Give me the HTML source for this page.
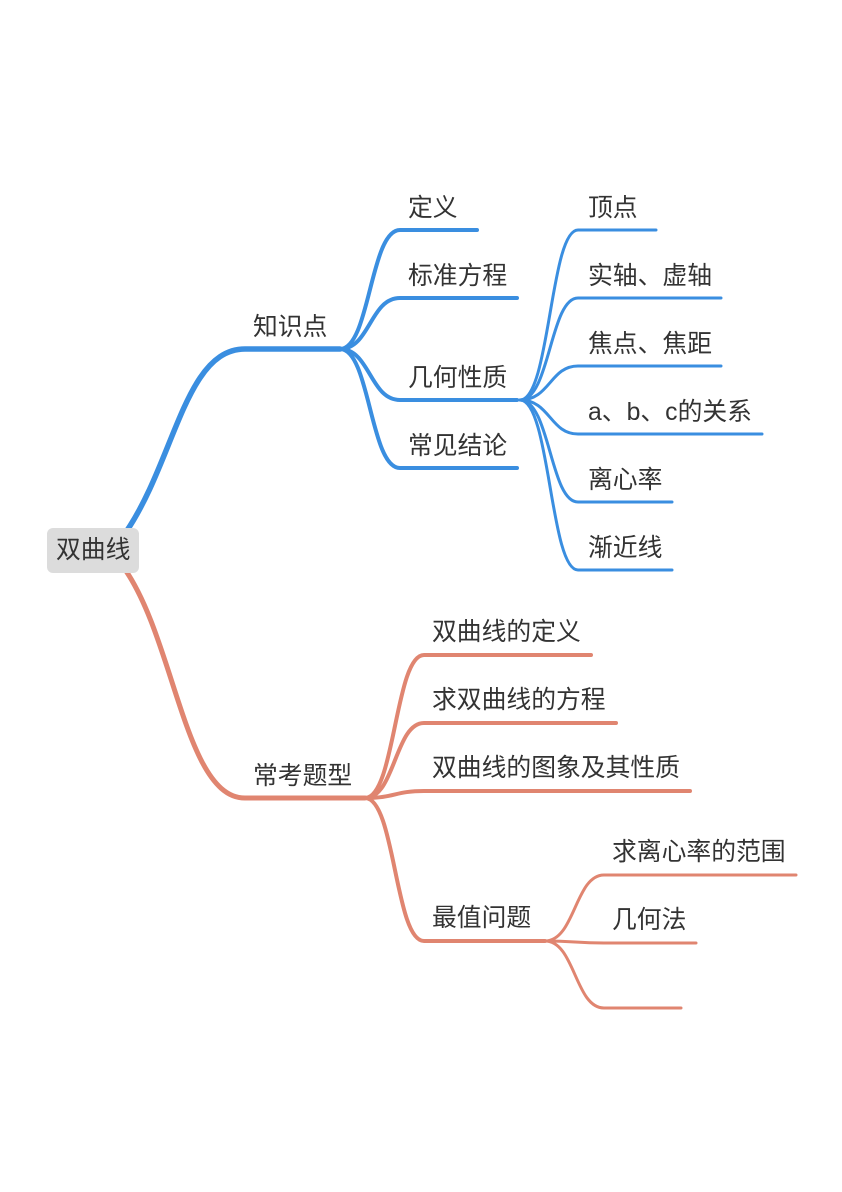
<!DOCTYPE html>
<html><head><meta charset="utf-8"><style>
html,body{margin:0;padding:0;background:#fff;}
svg{display:block;}
text{font-family:"Liberation Sans","Noto Sans CJK SC",sans-serif;font-size:24.8px;fill:#333;}
</style></head><body>
<svg width="842" height="1192" viewBox="0 0 842 1192" xmlns="http://www.w3.org/2000/svg">
<g fill="none" stroke-linecap="round">
<path d="M126 532 C175 460,185 349,245 349 L340 349" stroke="#3a8ee0" stroke-width="5.5"/>
<g stroke="#3a8ee0" stroke-width="4">
<path d="M340 349 C370 349,370 230,400 230 L477 230"/>
<path d="M340 349 C370 349,370 298,400 298 L517 298"/>
<path d="M340 349 C370 349,370 400,400 400 L517 400"/>
<path d="M340 349 C370 349,370 468,400 468 L517 468"/>
</g>
<g stroke="#3a8ee0" stroke-width="3">
<path d="M520 400 C550 400,550 230,578 230 L656 230"/>
<path d="M520 400 C550 400,550 298,578 298 L721 298"/>
<path d="M520 400 C550 400,550 366,578 366 L721 366"/>
<path d="M520 400 C550 400,550 434,578 434 L762 434"/>
<path d="M520 400 C550 400,550 502,578 502 L672 502"/>
<path d="M520 400 C550 400,550 570,578 570 L672 570"/>
</g>
<path d="M124 568 C175 640,185 798,245 798 L365 798" stroke="#e08570" stroke-width="5"/>
<g stroke="#e08570" stroke-width="4">
<path d="M365 798 C395 798,395 655,424 655 L591 655"/>
<path d="M365 798 C395 798,395 723,424 723 L616 723"/>
<path d="M365 798 C395 798,395 791,424 791 L690 791"/>
<path d="M365 798 C395 798,395 941,424 941 L545 941"/>
</g>
<g stroke="#e08570" stroke-width="3">
<path d="M545 941 C575 941,575 875,604 875 L796 875"/>
<path d="M545 941 C575 941,575 943,604 943 L696 943"/>
<path d="M545 941 C575 941,575 1008,604 1008 L681 1008"/>
</g>
</g>
<rect x="47" y="528" width="92" height="45" rx="6" fill="#dcdcdc"/>
<text x="56" y="558">双曲线</text>
<text x="253" y="335">知识点</text>
<text x="408" y="216">定义</text>
<text x="408" y="284">标准方程</text>
<text x="408" y="386">几何性质</text>
<text x="408" y="454">常见结论</text>
<text x="588" y="216">顶点</text>
<text x="588" y="284">实轴、虚轴</text>
<text x="588" y="352">焦点、焦距</text>
<text x="588" y="420">a、b、c的关系</text>
<text x="588" y="488">离心率</text>
<text x="588" y="556">渐近线</text>
<text x="253" y="784">常考题型</text>
<text x="432" y="640">双曲线的定义</text>
<text x="432" y="708">求双曲线的方程</text>
<text x="432" y="776">双曲线的图象及其性质</text>
<text x="432" y="926">最值问题</text>
<text x="612" y="860">求离心率的范围</text>
<text x="612" y="928">几何法</text>
</svg>
</body></html>
